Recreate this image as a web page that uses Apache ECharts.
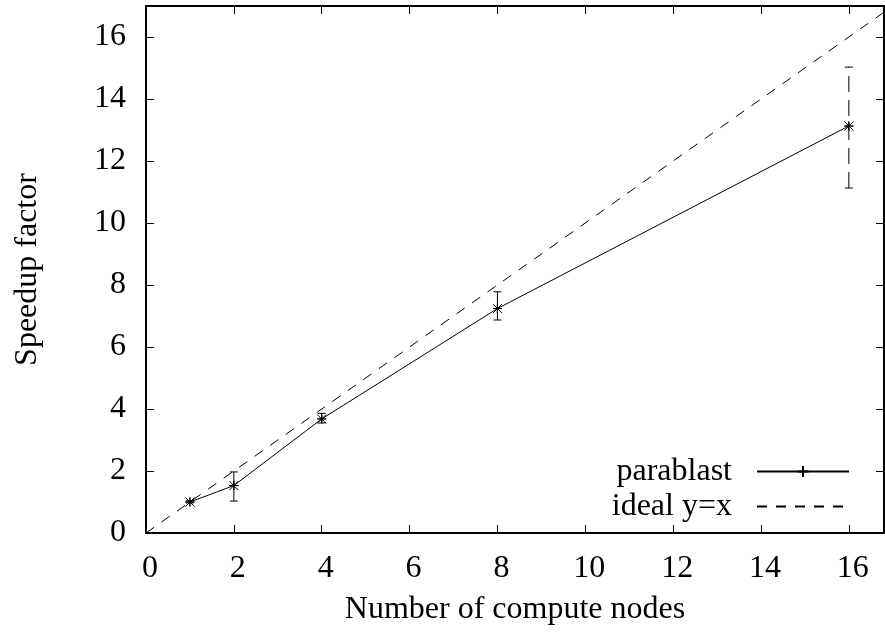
<!DOCTYPE html>
<html>
<head>
<meta charset="utf-8">
<script src="https://cdn.jsdelivr.net/npm/echarts@6/dist/echarts.min.js"></script>
<style>
  html, body { margin: 0; padding: 0; background: #fff; }
  #main { width: 885px; height: 639px; }
</style>
</head>
<body>
<div id="main"></div>
<script>
var nodes = [1, 2, 4, 8, 16];
var speedup = [1.0, 1.53, 3.68, 7.24, 13.13];
var errLow = [0.97, 1.03, 3.55, 6.87, 11.13];
var errHigh = [1.04, 1.97, 3.86, 7.78, 15.03];
var idealX = [0, 16.8];
var xTicks = [0, 2, 4, 6, 8, 10, 12, 14, 16];
var yTicks = [0, 2, 4, 6, 8, 10, 12, 14, 16];

var FONT = 'Liberation Serif';

var pts = nodes.map(function (n, i) { return [n, speedup[i]]; });
var ideal = idealX.map(function (v) { return [v, v]; });
var errData = nodes.map(function (n, i) { return [n, speedup[i], errLow[i], errHigh[i]]; });

function tickLabel(list) {
    return function (v) { return list.indexOf(v) >= 0 ? String(v) : ''; };
}

var myChart = echarts.init(document.getElementById('main'));

var baseAxis = {
    type: 'value',
    interval: 2,
    splitLine: { show: false },
    axisLine: { show: true, onZero: false, lineStyle: { color: '#000', width: 2 } },
    axisTick: { show: true, inside: true, length: 8, lineStyle: { color: '#000', width: 1 } }
};

var option = {
    animation: false,
    backgroundColor: '#fff',
    grid: { left: 146, right: 1, top: 6, bottom: 106, containLabel: false },
    xAxis: [
        Object.assign({}, baseAxis, {
            min: 0, max: 16.8, position: 'bottom',
            name: 'Number of compute nodes', nameLocation: 'middle', nameGap: 61,
            nameTextStyle: { fontFamily: FONT, fontSize: 32, color: '#000' },
            axisLabel: {
                fontFamily: FONT, fontSize: 32, color: '#000', margin: 20,
                padding: [0, 0, 0, 8],
                showMaxLabel: false, formatter: tickLabel(xTicks)
            }
        }),
        Object.assign({}, baseAxis, {
            min: 0, max: 16.8, position: 'top',
            axisLabel: { show: false }
        })
    ],
    yAxis: [
        Object.assign({}, baseAxis, {
            min: 0, max: 17, position: 'left',
            name: 'Speedup factor', nameLocation: 'middle', nameGap: 102,
            nameTextStyle: { fontFamily: FONT, fontSize: 32, color: '#000' },
            axisLabel: {
                fontFamily: FONT, fontSize: 32, color: '#000', margin: 20,
                showMaxLabel: false, formatter: tickLabel(yTicks)
            }
        }),
        Object.assign({}, baseAxis, {
            min: 0, max: 17, position: 'right',
            axisLabel: { show: false }
        })
    ],
    legend: {
        orient: 'vertical',
        align: 'right',
        right: 35,
        top: 454,
        padding: 0,
        itemWidth: 92,
        itemHeight: 14,
        itemGap: 0,
        textStyle: { fontFamily: FONT, fontSize: 32, color: '#000', padding: [0, 20, 0, 0], lineHeight: 35 },
        data: [
            { name: 'parablast' },
            { name: 'ideal y=x', itemStyle: { opacity: 0 } }
        ]
    },
    series: [
        {
            name: 'parablast',
            type: 'line',
            data: pts,
            symbol: 'path://M0,5L10,5M5,0L5,10',
            symbolSize: 9,
            itemStyle: { color: '#000', borderColor: '#000', borderWidth: 1 },
            lineStyle: { color: '#000', width: 1 },
            z: 3
        },
        {
            name: 'ideal y=x',
            type: 'line',
            data: ideal,
            symbol: 'none',
            itemStyle: { color: '#000' },
            lineStyle: { color: '#000', width: 1, type: [10, 9] },
            z: 2
        },
        {
            name: 'errors',
            type: 'custom',
            data: errData,
            z: 4,
            renderItem: function (params, api) {
                var x = api.value(0);
                var c = api.coord([x, api.value(1)]);
                var lo = api.coord([x, api.value(2)]);
                var hi = api.coord([x, api.value(3)]);
                var cap = 4;
                var s = 4.5;
                var barStyle = { stroke: '#000', lineWidth: 1 };
                if (lo[1] - hi[1] > 40) {
                    barStyle = { stroke: '#000', lineWidth: 1, lineDash: [16, 8] };
                }
                var solid = { stroke: '#000', lineWidth: 1 };
                return {
                    type: 'group',
                    children: [
                        { type: 'line', shape: { x1: lo[0], y1: lo[1], x2: hi[0], y2: hi[1] }, style: barStyle },
                        { type: 'line', shape: { x1: lo[0] - cap, y1: lo[1], x2: lo[0] + cap, y2: lo[1] }, style: solid },
                        { type: 'line', shape: { x1: hi[0] - cap, y1: hi[1], x2: hi[0] + cap, y2: hi[1] }, style: solid },
                        // asterisk marker
                        { type: 'line', shape: { x1: c[0] - s, y1: c[1], x2: c[0] + s, y2: c[1] }, style: solid },
                        { type: 'line', shape: { x1: c[0], y1: c[1] - s, x2: c[0], y2: c[1] + s }, style: solid },
                        { type: 'line', shape: { x1: c[0] - s, y1: c[1] - s, x2: c[0] + s, y2: c[1] + s }, style: solid },
                        { type: 'line', shape: { x1: c[0] - s, y1: c[1] + s, x2: c[0] + s, y2: c[1] - s }, style: solid }
                    ]
                };
            }
        }
    ]
};

myChart.setOption(option);
</script>
</body>
</html>
